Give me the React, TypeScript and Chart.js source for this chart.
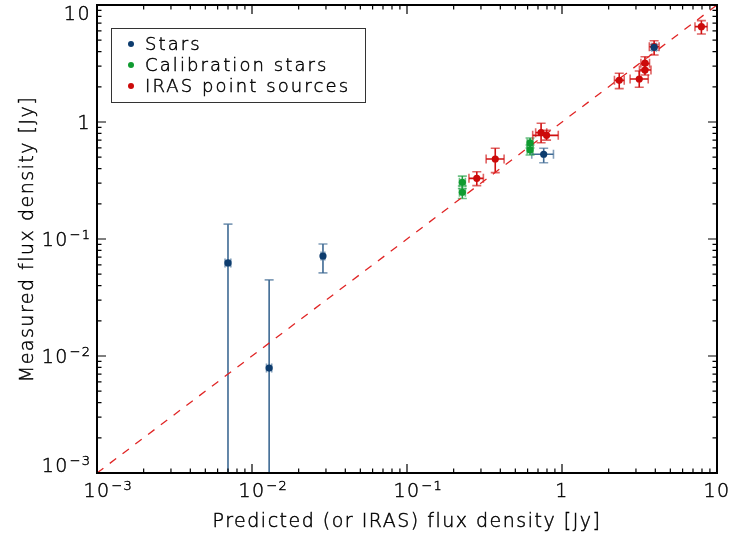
import React, { useEffect, useRef } from 'react';
import { Chart, registerables } from 'chart.js';

Chart.register(...registerables);

// ---- data ----
const starsX = [0.0070, 0.0129, 0.0287, 0.762, 3.93];
const starsY = [0.0624, 0.00788, 0.0716, 0.530, 4.35];
const starsXLo = [0.0067, 0.0124, 0.0279, 0.638, 3.80];
const starsXHi = [0.0073, 0.0134, 0.0295, 0.881, 4.06];
const starsYLo = [0.00001, 0.00001, 0.0513, 0.449, 4.10];
const starsYHi = [0.134, 0.0447, 0.0906, 0.596, 4.60];

const calX = [0.2275, 0.2275, 0.622, 0.622];
const calY = [0.305, 0.251, 0.662, 0.577];
const calXLo = [0.218, 0.218, 0.596, 0.596];
const calXHi = [0.238, 0.238, 0.650, 0.650];
const calYLo = [0.270, 0.222, 0.600, 0.523];
const calYHi = [0.345, 0.284, 0.730, 0.636];

const irasX = [0.282, 0.371, 0.733, 0.795, 2.34, 3.15, 3.43, 3.43, 3.93, 7.93];
const irasY = [0.330, 0.483, 0.811, 0.769, 2.27, 2.33, 2.78, 3.18, 4.40, 6.53];
const irasXLo = [0.251, 0.324, 0.676, 0.647, 2.18, 2.75, 3.16, 3.23, 3.66, 7.21];
const irasXHi = [0.311, 0.423, 0.797, 0.946, 2.52, 3.60, 3.75, 3.67, 4.23, 8.65];
const irasYLo = [0.286, 0.369, 0.665, 0.700, 1.93, 1.98, 2.52, 2.82, 3.74, 5.65];
const irasYHi = [0.376, 0.596, 0.975, 0.850, 2.61, 2.73, 3.11, 3.61, 4.95, 7.35];

const oneToOneX = [0.001, 10];

// tick labels: base and exponent ('' = no exponent)
const tickValues = [0.001, 0.01, 0.1, 1, 10];
const tickBases = ['10', '10', '10', '1', '10'];
const tickExps = ['\u22123', '\u22122', '\u22121', '', ''];

const seriesNames = ['Stars', 'Calibration stars', 'IRAS point sources'];
const seriesColors = ['#0d3c6e', '#0f9b30', '#cc0a0a'];
const barColors = ['#3f6a94', '#21a043', '#d01010'];

const xTitle = 'Predicted (or IRAS) flux density [Jy]';
const yTitle = 'Measured flux density [Jy]';

const FONT = 'DejaVu Sans';
const WEIGHT = '200';
const TEXT_STROKE = 0.45;

type Err = { xLo: number[]; xHi: number[]; yLo: number[]; yHi: number[]; x: number[]; y: number[] };
const groups: Err[] = [
  { x: starsX, y: starsY, xLo: starsXLo, xHi: starsXHi, yLo: starsYLo, yHi: starsYHi },
  { x: calX, y: calY, xLo: calXLo, xHi: calXHi, yLo: calYLo, yHi: calYHi },
  { x: irasX, y: irasY, xLo: irasXLo, xHi: irasXHi, yLo: irasYLo, yHi: irasYHi },
];

const errorBars = {
  id: 'errorBars',
  beforeDatasetsDraw(chart: any) {
    const { ctx, chartArea } = chart;
    const xs = chart.scales.x;
    const ys = chart.scales.y;
    ctx.save();
    ctx.beginPath();
    ctx.rect(chartArea.left, chartArea.top, chartArea.right - chartArea.left, chartArea.bottom - chartArea.top);
    ctx.clip();
    const cap = 4.5;
    groups.forEach((g, gi) => {
      ctx.strokeStyle = barColors[gi];
      ctx.lineWidth = 1.6;
      for (let i = 0; i < g.x.length; i++) {
        const px = xs.getPixelForValue(g.x[i]);
        const py = ys.getPixelForValue(g.y[i]);
        const x0 = xs.getPixelForValue(g.xLo[i]);
        const x1 = xs.getPixelForValue(g.xHi[i]);
        const y0 = ys.getPixelForValue(g.yLo[i]);
        const y1 = ys.getPixelForValue(g.yHi[i]);
        ctx.globalAlpha = 1;
        ctx.beginPath();
        ctx.moveTo(px, y0); ctx.lineTo(px, y1);
        ctx.moveTo(x0, py); ctx.lineTo(x1, py);
        ctx.stroke();
        ctx.globalAlpha = 0.65;
        ctx.beginPath();
        ctx.moveTo(px - cap, y0); ctx.lineTo(px + cap, y0);
        ctx.moveTo(px - cap, y1); ctx.lineTo(px + cap, y1);
        ctx.moveTo(x0, py - cap); ctx.lineTo(x0, py + cap);
        ctx.moveTo(x1, py - cap); ctx.lineTo(x1, py + cap);
        ctx.stroke();
      }
    });
    ctx.restore();
  },
};

function text(ctx: any, s: string, x: number, y: number) {
  ctx.fillText(s, x, y);
  ctx.strokeText(s, x, y);
}

function drawPowLabel(ctx: any, base: string, exp: string, x: number, cy: number, mode: 'center-base' | 'right') {
  const bigFont = `${WEIGHT} 19px "${FONT}"`;
  const smallFont = `${WEIGHT} 13px "${FONT}"`;
  ctx.letterSpacing = '1.5px';
  ctx.font = bigFont;
  const wb = ctx.measureText(base).width;
  ctx.font = smallFont;
  ctx.letterSpacing = '1px';
  const we = exp ? ctx.measureText(exp).width + 1 : 0;
  const start = mode === 'center-base' ? x - wb / 2 : x - wb - we;
  const baseline = cy + 7;
  ctx.textAlign = 'left';
  ctx.textBaseline = 'alphabetic';
  ctx.font = bigFont;
  ctx.letterSpacing = '1.5px';
  text(ctx, base, start, baseline);
  if (exp) {
    ctx.font = smallFont;
    ctx.letterSpacing = '1px';
    text(ctx, exp, start + wb + 1, baseline - 7);
  }
}

const frame = {
  id: 'frame',
  afterDraw(chart: any) {
    const { ctx, chartArea } = chart;
    const { left, right, top, bottom } = chartArea;
    const xs = chart.scales.x;
    const ys = chart.scales.y;
    ctx.save();
    ctx.letterSpacing = '0px';
    // minor/major ticks, pointing inward on all four sides
    ctx.strokeStyle = '#000';
    ctx.lineWidth = 1.2;
    ctx.beginPath();
    for (let d = -3; d <= 0; d++) {
      for (let m = 1; m <= 9; m++) {
        const v = m * Math.pow(10, d);
        const len = m === 1 ? 9 : 4.5;
        const px = xs.getPixelForValue(v);
        ctx.moveTo(px, bottom); ctx.lineTo(px, bottom - len);
        ctx.moveTo(px, top); ctx.lineTo(px, top + len);
        const py = ys.getPixelForValue(v);
        ctx.moveTo(left, py); ctx.lineTo(left + len, py);
        ctx.moveTo(right, py); ctx.lineTo(right - len, py);
      }
    }
    ctx.stroke();
    // box
    ctx.lineWidth = 2;
    ctx.strokeRect(left, top, right - left, bottom - top);

    // text style
    ctx.fillStyle = '#000';
    ctx.strokeStyle = '#000';
    ctx.lineWidth = TEXT_STROKE;

    // tick labels
    tickValues.forEach((v, i) => {
      const px = xs.getPixelForValue(v);
      drawPowLabel(ctx, tickBases[i], tickExps[i], px, bottom + 17, 'center-base');
      const py = ys.getPixelForValue(v);
      const cy = Math.min(Math.max(py, top + 8), bottom - 8);
      drawPowLabel(ctx, tickBases[i], tickExps[i], left - 6, cy, 'right');
    });

    // axis titles
    ctx.font = `${WEIGHT} 19px "${FONT}"`;
    ctx.letterSpacing = '1.5px';
    ctx.textAlign = 'center';
    ctx.textBaseline = 'middle';
    text(ctx, xTitle, (left + right) / 2, 522);
    ctx.save();
    ctx.translate(28, (top + bottom) / 2);
    ctx.rotate(-Math.PI / 2);
    text(ctx, yTitle, 0, 0);
    ctx.restore();

    // legend
    ctx.lineWidth = 1;
    ctx.strokeStyle = '#333';
    ctx.strokeRect(111.5, 28.5, 254, 74);
    ctx.font = `${WEIGHT} 18px "${FONT}"`;
    ctx.letterSpacing = '2.1px';
    ctx.textBaseline = 'alphabetic';
    ctx.textAlign = 'left';
    seriesNames.forEach((name, i) => {
      const cy = 44 + i * 21;
      ctx.fillStyle = seriesColors[i];
      ctx.beginPath();
      ctx.arc(131, cy, 3, 0, Math.PI * 2);
      ctx.fill();
      ctx.fillStyle = '#000';
      ctx.strokeStyle = '#000';
      ctx.lineWidth = TEXT_STROKE;
      text(ctx, name, 145, cy + 5.5);
    });
    ctx.restore();
  },
};

export default function App() {
  const ref = useRef<HTMLCanvasElement | null>(null);
  useEffect(() => {
    document.body.style.margin = '0';
    if (!ref.current) return;
    const mk = (xsArr: number[], ysArr: number[]) => xsArr.map((v, i) => ({ x: v, y: ysArr[i] }));
    const chart = new Chart(ref.current, {
      type: 'scatter',
      data: {
        datasets: [
          { label: seriesNames[0], data: mk(starsX, starsY), backgroundColor: seriesColors[0], borderWidth: 0, pointRadius: 3.6 },
          { label: seriesNames[1], data: mk(calX, calY), backgroundColor: seriesColors[1], borderWidth: 0, pointRadius: 3.6 },
          { label: seriesNames[2], data: mk(irasX, irasY), backgroundColor: seriesColors[2], borderWidth: 0, pointRadius: 3.6 },
          {
            label: '1:1',
            data: mk(oneToOneX, oneToOneX),
            showLine: true,
            borderColor: '#e02525',
            borderWidth: 1.3,
            borderDash: [8, 8],
            pointRadius: 0,
            fill: false,
          } as any,
        ],
      },
      options: {
        animation: false,
        responsive: false,
        devicePixelRatio: 1,
        layout: { padding: { top: 5, right: 13, left: 0, bottom: 0 } },
        plugins: { legend: { display: false }, tooltip: { enabled: false } },
        scales: {
          x: {
            type: 'logarithmic',
            min: 0.001,
            max: 10,
            grid: { display: false },
            border: { display: false },
            afterFit: (s: any) => { s.height = 67; },
            ticks: { display: false },
            title: { display: false, text: xTitle },
          },
          y: {
            type: 'logarithmic',
            min: 0.001,
            max: 10,
            grid: { display: false },
            border: { display: false },
            afterFit: (s: any) => { s.width = 97; },
            ticks: { display: false },
            title: { display: false, text: yTitle },
          },
        },
      },
      plugins: [errorBars, frame],
    });
    return () => chart.destroy();
  }, []);
  return (
    <div style={{ width: 730, height: 540 }}>
      <canvas ref={ref} width={730} height={540} />
    </div>
  );
}
